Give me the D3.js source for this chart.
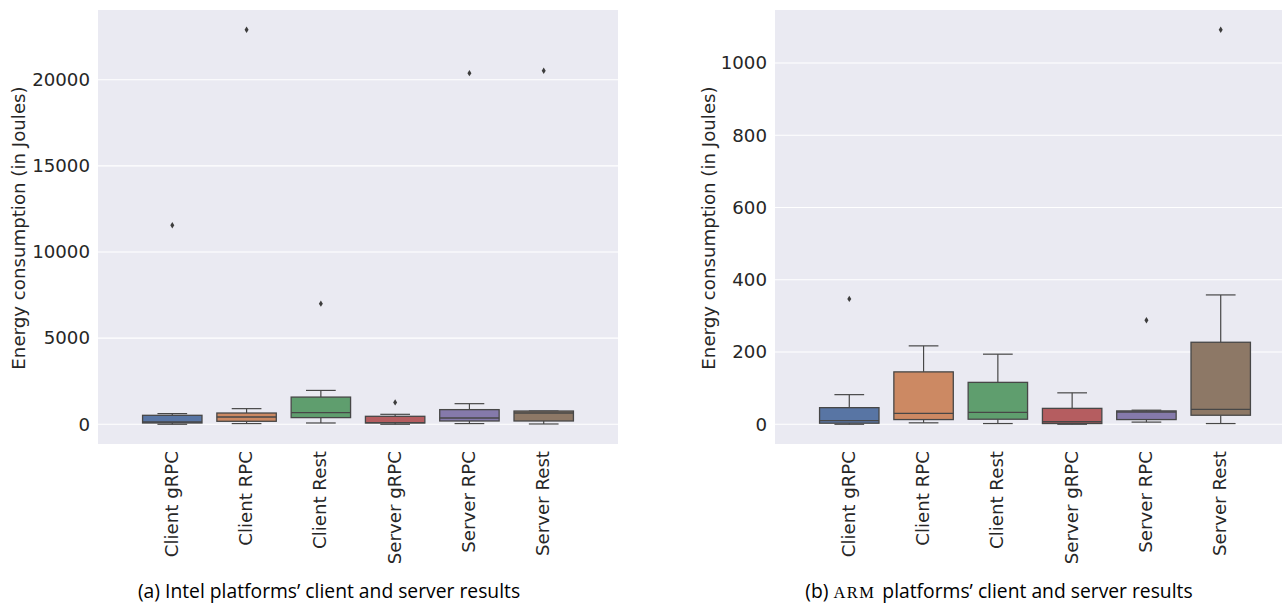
<!DOCTYPE html>
<html>
<head>
<meta charset="utf-8">
<script src="https://cdn.jsdelivr.net/npm/d3@7"></script>
<style>
  html, body { margin: 0; padding: 0; background: #ffffff; }
  svg { display: block; }
</style>
</head>
<body>
<svg id="chart" width="1282" height="603"></svg>
<script>
// Categories shared by both panels
const categories = ["Client gRPC", "Client RPC", "Client Rest", "Server gRPC", "Server RPC", "Server Rest"];

// Intel platforms: box statistics per category (Joules)
const intelWhiskerLow  = [0,    40,   75,   0,    40,   17];
const intelQ1          = [75,   173,  387,  75,   191,  191];
const intelMedian      = [133,  422,  676,  98,   365,  653];
const intelQ3          = [520,  653,  1578, 462,  850,  769];
const intelWhiskerHigh = [618,  907,  1965, 578,  1196, 769];
const intelOutliers    = [[11550], [22900], [7000], [1270], [20380], [20520]];

// ARM platforms: box statistics per category (Joules)
const armWhiskerLow  = [0,   4,   2,   0,   6,   2];
const armQ1          = [3,   13,  14,  2,   13,  25];
const armMedian      = [10,  30,  33,  7,   34,  41];
const armQ3          = [46,  145, 116, 44,  37,  227];
const armWhiskerHigh = [82,  217, 194, 87,  39,  358];
const armOutliers    = [[347], [], [], [], [288], [1092]];

// Tick values
const intelTicks = [0, 5000, 10000, 15000, 20000];
const armTicks = [0, 200, 400, 600, 800, 1000];

// Desaturated "deep" palette used for the box fills
const boxColors = ["#5875a4", "#cc8963", "#5f9e6e", "#b55d60", "#857aab", "#8d7866"];

const yLabel = "Energy consumption (in Joules)";
const fontFamily = "'DejaVu Sans', sans-serif";
const fontSize = 18.2;
const textColor = "#262626";
const lineColor = "#474747";

const svg = d3.select("#chart");

function buildRows(lo, q1, med, q3, hi, outs) {
  return categories.map((c, i) => ({
    cat: c, idx: i, lo: lo[i], q1: q1[i], med: med[i], q3: q3[i], hi: hi[i], outs: outs[i]
  }));
}

function drawPanel(cfg) {
  const rows = buildRows(...cfg.stats);
  const allVals = rows.flatMap(r => [r.lo, r.hi, ...r.outs]);
  const vmin = d3.min(allVals), vmax = d3.max(allVals);
  const pad = (vmax - vmin) * 0.05;

  const x = d3.scaleLinear().domain([-1, categories.length]).range([cfg.left, cfg.right]);
  const y = d3.scaleLinear().domain([vmin - pad, vmax + pad]).range([cfg.bottom, cfg.top]);

  const clipId = "clip-" + cfg.id;
  svg.append("clipPath").attr("id", clipId)
    .append("rect").attr("x", cfg.left).attr("y", cfg.top)
    .attr("width", cfg.right - cfg.left).attr("height", cfg.bottom - cfg.top);

  const g = svg.append("g").attr("clip-path", `url(#${clipId})`);

  // Background
  g.append("rect")
    .attr("x", cfg.left).attr("y", cfg.top)
    .attr("width", cfg.right - cfg.left).attr("height", cfg.bottom - cfg.top)
    .attr("fill", "#eaeaf2");

  // Horizontal grid
  g.selectAll("line.grid").data(cfg.ticks).enter().append("line")
    .attr("class", "grid")
    .attr("x1", cfg.left).attr("x2", cfg.right)
    .attr("y1", d => y(d)).attr("y2", d => y(d))
    .attr("stroke", "#ffffff").attr("stroke-width", 1.1);

  const boxW = 0.8;
  const capW = 0.4;

  const box = g.selectAll("g.box").data(rows).enter().append("g").attr("class", "box");

  // Whiskers
  box.append("line")
    .attr("x1", d => x(d.idx)).attr("x2", d => x(d.idx))
    .attr("y1", d => y(d.q3)).attr("y2", d => y(d.hi))
    .attr("stroke", lineColor).attr("stroke-width", 1.2);
  box.append("line")
    .attr("x1", d => x(d.idx)).attr("x2", d => x(d.idx))
    .attr("y1", d => y(d.q1)).attr("y2", d => y(d.lo))
    .attr("stroke", lineColor).attr("stroke-width", 1.2);
  // Caps
  box.append("line")
    .attr("x1", d => x(d.idx - capW / 2)).attr("x2", d => x(d.idx + capW / 2))
    .attr("y1", d => y(d.hi)).attr("y2", d => y(d.hi))
    .attr("stroke", lineColor).attr("stroke-width", 1.2);
  box.append("line")
    .attr("x1", d => x(d.idx - capW / 2)).attr("x2", d => x(d.idx + capW / 2))
    .attr("y1", d => y(d.lo)).attr("y2", d => y(d.lo))
    .attr("stroke", lineColor).attr("stroke-width", 1.2);
  // Boxes
  box.append("rect")
    .attr("x", d => x(d.idx - boxW / 2))
    .attr("width", d => x(d.idx + boxW / 2) - x(d.idx - boxW / 2))
    .attr("y", d => y(d.q3))
    .attr("height", d => Math.max(0.5, y(d.q1) - y(d.q3)))
    .attr("fill", (d, i) => boxColors[i])
    .attr("stroke", lineColor).attr("stroke-width", 1.3);
  // Medians
  box.append("line")
    .attr("x1", d => x(d.idx - boxW / 2)).attr("x2", d => x(d.idx + boxW / 2))
    .attr("y1", d => y(d.med)).attr("y2", d => y(d.med))
    .attr("stroke", lineColor).attr("stroke-width", 1.3);
  // Outliers as small diamonds
  box.selectAll("path.flier").data(d => d.outs.map(v => ({ idx: d.idx, v }))).enter()
    .append("path").attr("class", "flier")
    .attr("transform", p => `translate(${x(p.idx)},${y(p.v)})`)
    .attr("d", "M0,-3.2L2,0L0,3.2L-2,0Z")
    .attr("fill", "#3d3d3d");

  // Y axis tick labels (no tick marks)
  const yAxis = d3.axisLeft(y).tickValues(cfg.ticks).tickSize(0).tickPadding(8).tickFormat(d3.format("d"));
  const ya = svg.append("g").attr("transform", `translate(${cfg.left},0)`).call(yAxis);
  ya.select(".domain").remove();
  ya.selectAll("text")
    .attr("font-family", fontFamily).attr("font-size", fontSize)
    .attr("fill", textColor);

  // X axis category labels, rotated
  const xa = svg.append("g");
  xa.selectAll("text").data(rows).enter().append("text")
    .attr("transform", d => `translate(${x(d.idx)},${cfg.bottom + 7}) rotate(-90)`)
    .attr("dy", "0.3em")
    .attr("text-anchor", "end")
    .attr("font-family", fontFamily).attr("font-size", fontSize)
    .attr("fill", textColor)
    .text(d => d.cat);

  // Y axis title
  svg.append("text")
    .attr("transform", `translate(${cfg.labelX},${cfg.labelY}) rotate(-90)`)
    .attr("text-anchor", "middle")
    .attr("font-family", fontFamily).attr("font-size", fontSize)
    .attr("fill", textColor)
    .text(yLabel);
}

drawPanel({
  id: "intel", left: 98, right: 618, top: 10, bottom: 444,
  ticks: intelTicks,
  stats: [intelWhiskerLow, intelQ1, intelMedian, intelQ3, intelWhiskerHigh, intelOutliers],
  labelX: 25, labelY: 228
});

drawPanel({
  id: "arm", left: 775, right: 1295, top: 10, bottom: 444,
  ticks: armTicks,
  stats: [armWhiskerLow, armQ1, armMedian, armQ3, armWhiskerHigh, armOutliers],
  labelX: 715, labelY: 228
});

// Sub-figure captions
const capFont = "'Open Sans', sans-serif";
const capSize = 19.3;
svg.append("text")
  .attr("x", 329).attr("y", 598)
  .attr("text-anchor", "middle")
  .attr("font-family", capFont).attr("font-size", capSize)
  .attr("fill", "#000000")
  .text("(a) Intel platforms\u2019 client and server results");

const capB = svg.append("text")
  .attr("x", 999).attr("y", 598)
  .attr("text-anchor", "middle")
  .attr("font-family", capFont).attr("font-size", capSize)
  .attr("fill", "#000000");
capB.append("tspan").text("(b) ");
capB.append("tspan").attr("font-family", "'Liberation Serif', serif").attr("font-size", 16.5).attr("letter-spacing", 1.4).text("ARM");
capB.append("tspan").attr("dx", 2).text(" platforms\u2019 client and server results");
</script>
</body>
</html>
